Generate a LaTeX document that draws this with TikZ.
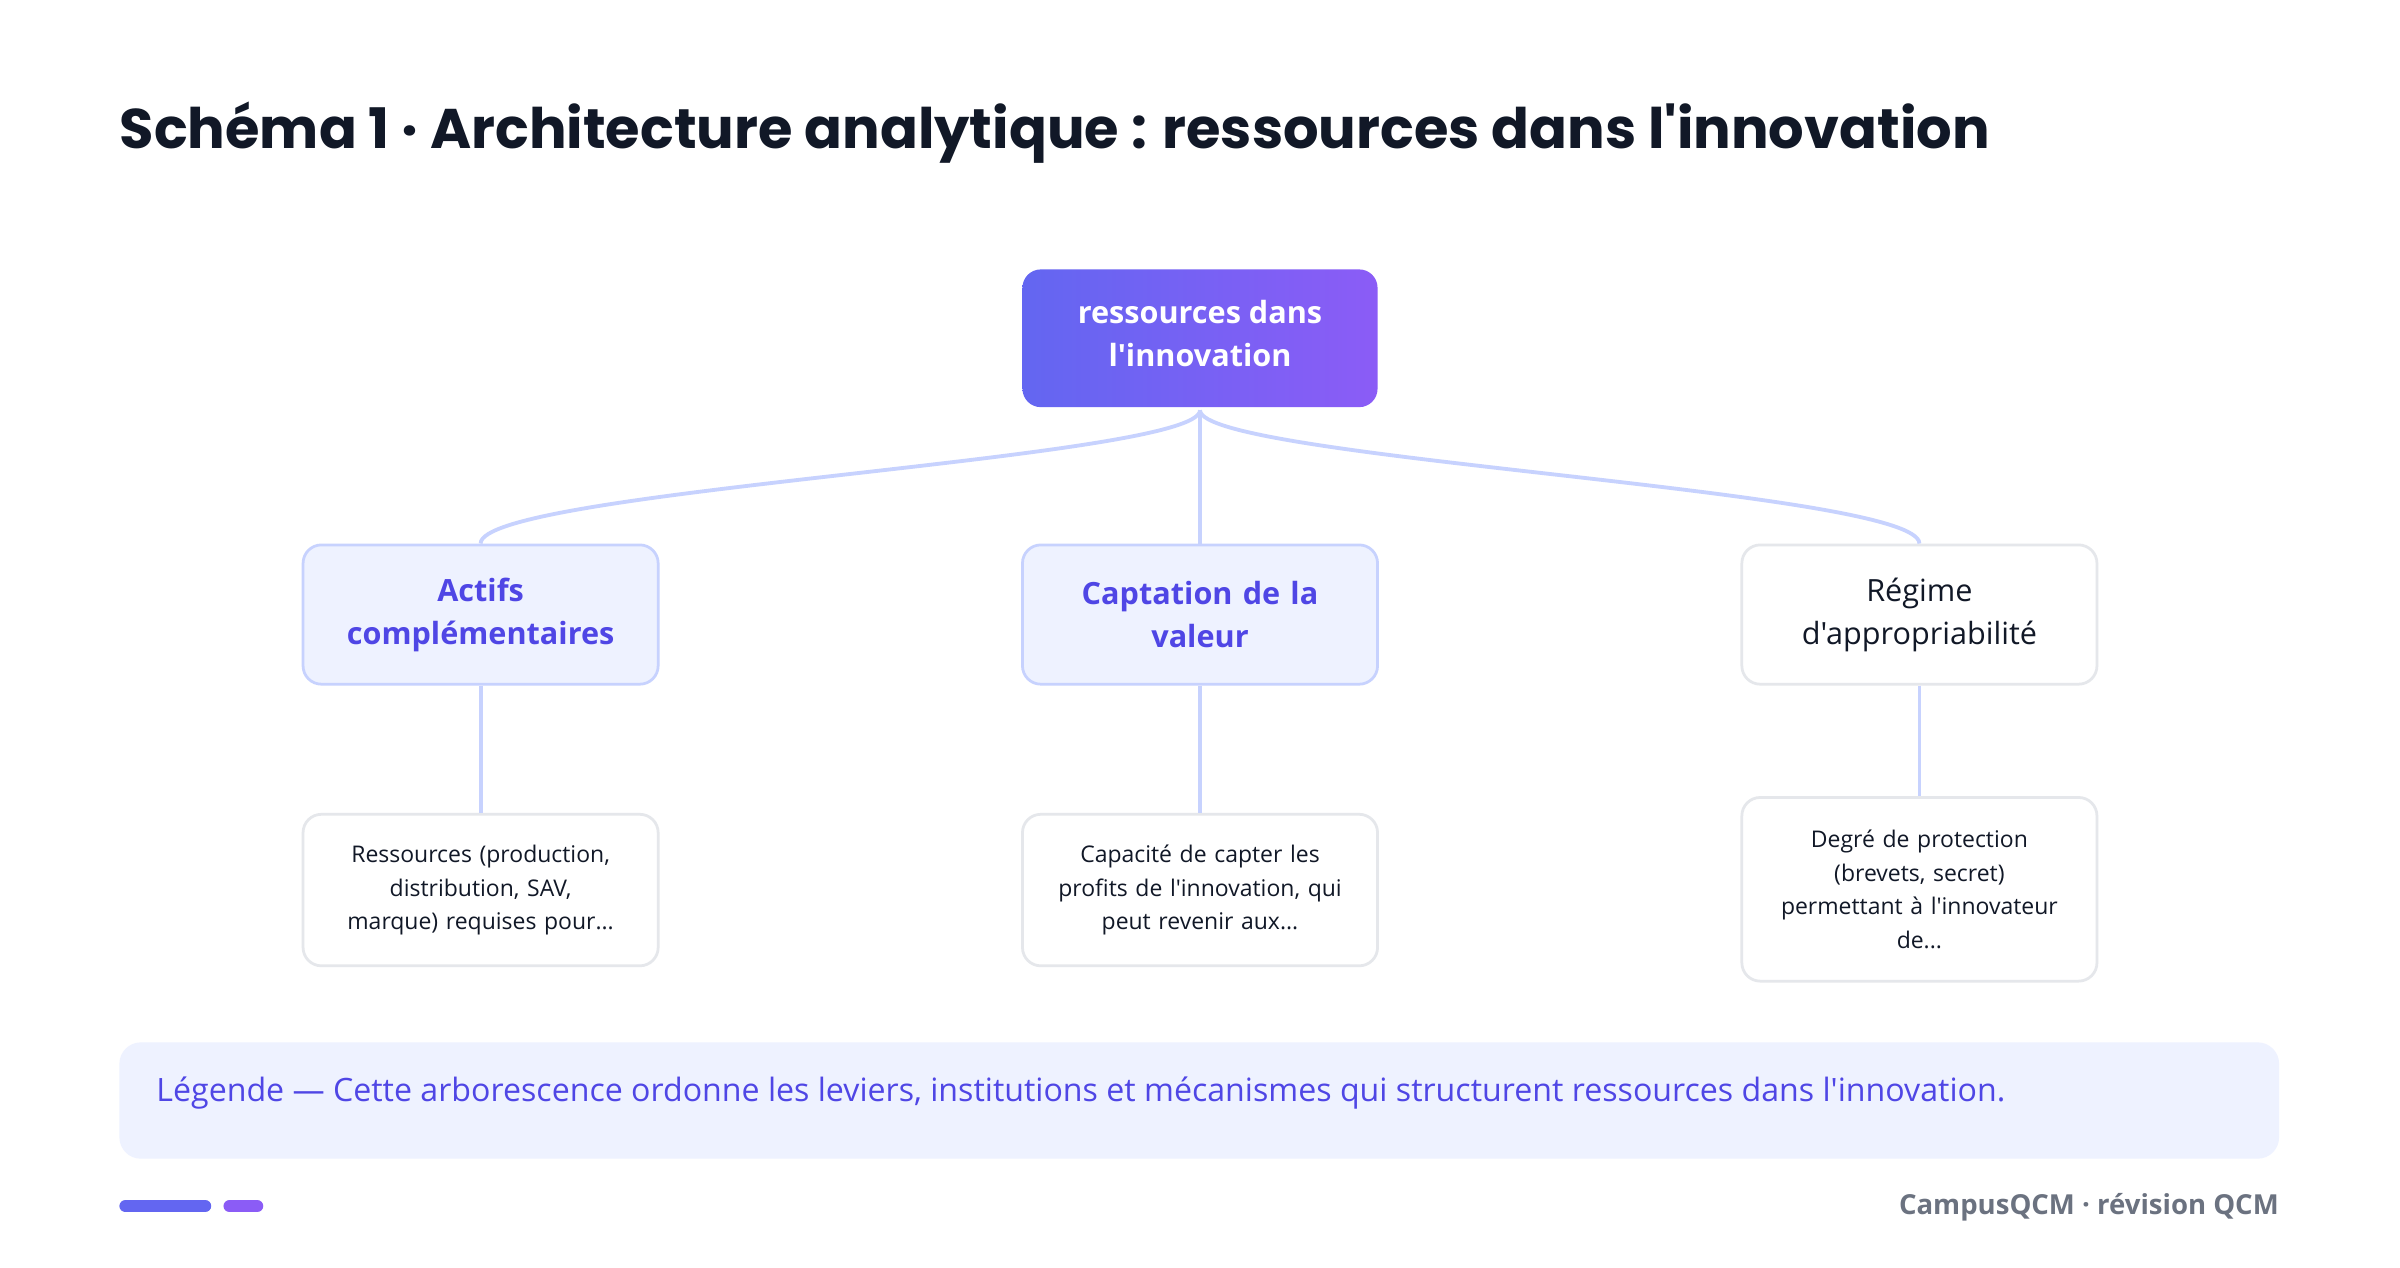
\documentclass[tikz,border=0pt]{standalone}
\usepackage{fontspec}
\setmainfont{Open Sans}[Ligatures=TeXOff]
\newfontfamily\titlefont{Poppins}
\usetikzlibrary{positioning}
\definecolor{ind}{HTML}{6366F1}
\definecolor{pur}{HTML}{8B5CF6}
\definecolor{lite}{HTML}{EEF2FF}
\definecolor{bord}{HTML}{C7D2FE}
\definecolor{gbord}{HTML}{E5E7EB}
\definecolor{itxt}{HTML}{4F46E5}
\definecolor{dark}{HTML}{111827}
\definecolor{foot}{HTML}{6B7280}
\begin{document}
\begin{tikzpicture}[x=1pt,y=-1pt,
  box/.style={rounded corners=12pt,line width=1.8pt,minimum width=232pt,align=center,text width=215pt},
  lvA/.style={box,fill=lite,draw=bord,minimum height=91pt,text=itxt,font=\fontsize{20}{28}\selectfont\bfseries},
  lvB/.style={box,fill=white,draw=gbord,minimum height=91pt,text=dark,font=\fontsize{20}{28}\selectfont},
  leaf/.style={box,fill=white,draw=gbord,text=dark,font=\fontsize{15}{22}\selectfont,text width=205pt},
  conn/.style={draw=bord,line width=2.5pt}]
\useasboundingbox (0,0) rectangle (1568,828);
\fill[white] (0,0) rectangle (1568,828);
\node[anchor=base west,text=dark,font=\titlefont\fontsize{36.5}{40}\selectfont\bfseries,inner sep=0] (title) at (78,97) {Schéma 1 · Architecture analytique : ressources dans l'innovation};
\shade[left color=ind,right color=pur,rounded corners=12pt] (668,176) rectangle (900,266);
\node[text=white,font=\fontsize{20}{28}\selectfont\bfseries,align=center,minimum width=232pt,minimum height=90pt] (root) at (784,218) {ressources dans\\l'innovation};
\node[lvA] (a1) at (314,401.5) {Actifs\\complémentaires};
\node[lvA] (a2) at (784,401.5) {Captation de la\\valeur};
\node[lvB] (a3) at (1254,401.5) {Régime\\d'appropriabilité};
\node[leaf,minimum height=99pt] (b1) at (314,581.5) {Ressources (production,\\distribution, SAV,\\marque) requises pour...};
\node[leaf,minimum height=99pt] (b2) at (784,581.5) {Capacité de capter les\\profits de l'innovation, qui\\peut revenir aux...};
\node[leaf,minimum height=120pt] (b3) at (1254,581) {Degré de protection\\(brevets, secret)\\permettant à l'innovateur\\de...};
\coordinate (r) at (784,268);
\draw[conn] (r) .. controls (784,300) and (314,320) .. (a1.north);
\draw[conn] (r) -- (a2.north);
\draw[conn] (r) .. controls (784,300) and (1254,320) .. (a3.north);
\draw[conn] (a1.south) -- (b1.north);
\draw[conn] (a2.south) -- (b2.north);
\draw[conn] (a3.south) -- (b3.north);
\fill[lite,rounded corners=14pt] (78,681) rectangle (1489,757);
\node[anchor=west,text=itxt,font=\fontsize{21}{24}\selectfont,inner sep=0] (leg) at (102,714) {Légende — Cette arborescence ordonne les leviers, institutions et mécanismes qui structurent ressources dans l'innovation.};
\draw[ind,line width=8pt,line cap=round] (82,788) -- (134,788);
\draw[pur,line width=8pt,line cap=round] (150,788) -- (168,788);
\node[anchor=east,text=foot,font=\fontsize{18}{22}\selectfont\bfseries,inner sep=0] (ft) at (1489,789) {CampusQCM · révision QCM};
\end{tikzpicture}
\end{document}
